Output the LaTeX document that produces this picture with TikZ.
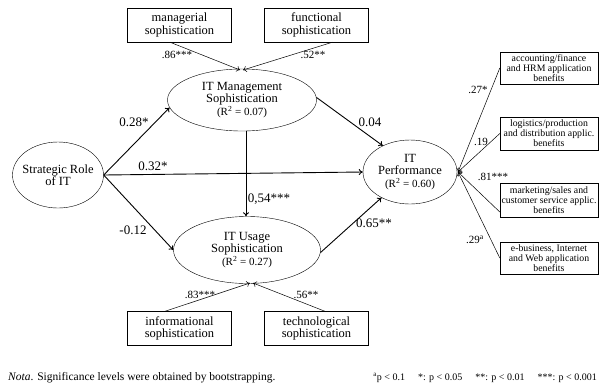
\documentclass[tikz,border=0pt]{standalone}
\usepackage{fontspec}
\setmainfont{Liberation Serif}
\usetikzlibrary{arrows.meta,shapes.geometric}
\begin{document}
\begin{tikzpicture}[x=1pt,y=-1pt,
  lat/.style={draw,ellipse,inner sep=-10pt,align=center,font=\fontsize{12.5}{12.5}\selectfont},
  ind/.style={draw,rectangle,inner sep=0pt,align=center,font=\fontsize{12.5}{12.5}\selectfont},
  rind/.style={draw,rectangle,inner sep=0pt,align=center,font=\fontsize{9.8}{10}\selectfont},
  spath/.style={-{To[length=4pt,width=6pt]},line width=0.9pt},
  meas/.style={-{To[length=3.5pt,width=6pt]},line width=0.5pt},
  plab/.style={font=\fontsize{13}{14}\selectfont,inner sep=0pt},
  mlab/.style={font=\fontsize{11}{12}\selectfont,inner sep=0pt}
]
\useasboundingbox (0,0) rectangle (599,384);
\newcommand{\rsq}[1]{{\fontsize{11}{12}\selectfont (R\textsuperscript{2} = #1)}}
% latent
\node[lat,minimum width=149pt,minimum height=62pt] (mgmt) at (242,100) {IT Management\\Sophistication\\\rsq{0.07}};
\node[lat,minimum width=91pt,minimum height=66pt] (sr) at (58,175) {Strategic Role\\of IT};
\node[lat,minimum width=147pt,minimum height=67pt] (use) at (247,250) {IT Usage\\Sophistication\\\rsq{0.27}};
\node[lat,minimum width=94pt,minimum height=64pt] (perf) at (410,172) {IT\\Performance\\\rsq{0.60}};
% indicators
\node[ind,minimum width=104pt,minimum height=34pt] (man) at (179.5,25) {managerial\\sophistication};
\node[ind,minimum width=104pt,minimum height=34pt] (fun) at (316.5,25) {functional\\sophistication};
\node[ind,minimum width=104pt,minimum height=34pt] (inf) at (179.5,328.5) {informational\\sophistication};
\node[ind,minimum width=104pt,minimum height=34pt] (tec) at (316.5,328.5) {technological\\sophistication};
\node[rind,minimum width=98pt,minimum height=32pt] (r1) at (549,68) {accounting/finance\\and HRM application\\benefits};
\node[rind,minimum width=98pt,minimum height=33pt] (r2) at (549,133.5) {logistics/production\\and distribution applic.\\benefits};
\node[rind,minimum width=98pt,minimum height=34pt] (r3) at (549,200) {marketing/sales and\\customer service applic.\\benefits};
\node[rind,minimum width=98pt,minimum height=32pt] (r4) at (549,258) {e-business, Internet\\and Web application\\benefits};
\coordinate (pc) at (458,172);
% structural paths
\draw[spath] (sr.east) -- (mgmt.186);
\draw[spath] (sr.east) -- (perf.west);
\draw[spath] (sr.east) -- (use.west);
\draw[spath] (mgmt.south -| 246,0) -- (use.north -| 246,0);
\draw[spath] (mgmt.2) -- (perf.136);
\draw[spath] (use.-2) -- (perf.-138);
% measurement
\draw[meas] (man.south) ++(-9.5,0) -- (240,70);
\draw[meas] (fun.south) ++(16,0) -- (243,70);
\draw[meas] (inf.north) ++(-14.5,0) -- (250,283);
\draw[meas] (tec.north) ++(8.5,0) -- (253,283);
\draw[meas] (r1.west) -- (pc);
\draw[meas] (r2.west) -- (pc);
\draw[meas] (r3.west|-0,212) -- (pc);
\draw[meas] (r4.west) -- (pc);
% labels
\node[plab] at (134,122) {0.28*};
\node[plab] at (153,166) {0.32*};
\node[plab] at (133,230) {-0.12};
\node[plab] at (269,199) {0,54***};
\node[plab] at (370,122) {0.04};
\node[plab] at (374,223) {0.65**};
\node[mlab] at (177,55) {.86***};
\node[mlab] at (313,55) {.52**};
\node[mlab] at (200,295) {.83***};
\node[mlab] at (306,295) {.56**};
\node[mlab] at (478,90) {.27*};
\node[mlab] at (481,142) {.19};
\node[mlab] at (493,177) {.81***};
\node[mlab] at (475,240) {.29\textsuperscript{a}};
% footer
\node[anchor=base west,inner sep=0pt,font=\fontsize{11.5}{12}\selectfont] (nota) at (8,380) {\textit{Nota}. Significance levels were obtained by bootstrapping.};
\node[anchor=base east,inner sep=0pt,font=\fontsize{10}{12}\selectfont] (sig) at (597,380) {\textsuperscript{a}p < 0.1\hspace{1.3em}*: p < 0.05\hspace{1.3em}**: p < 0.01\hspace{1.3em}***: p < 0.001};
\end{tikzpicture}
\end{document}
